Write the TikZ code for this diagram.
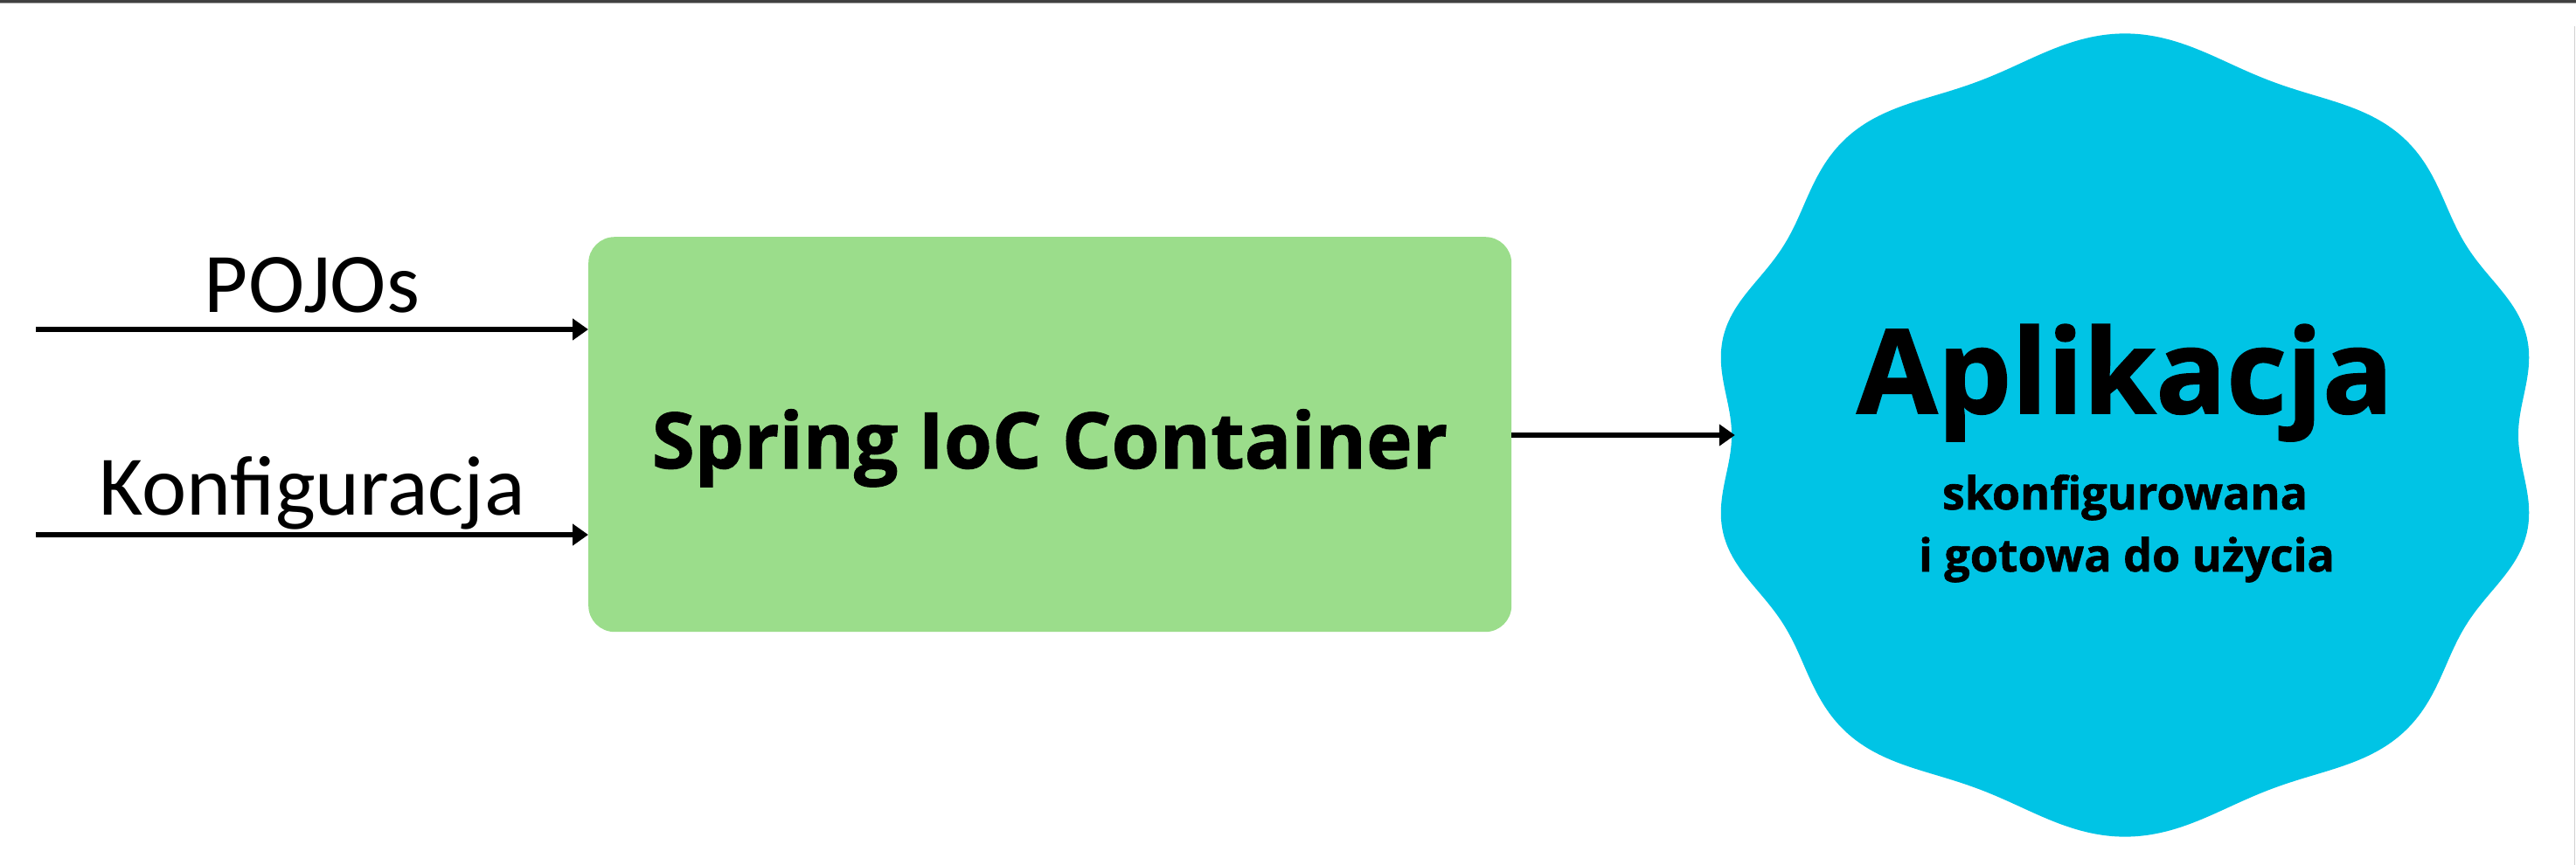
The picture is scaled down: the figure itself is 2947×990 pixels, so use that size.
\documentclass[tikz,border=0pt]{standalone}
\usepackage{fontspec}
\setmainfont{Carlito}
\newfontfamily\osans{Open Sans}[BoldFeatures={FakeBold=1.2}]
\usetikzlibrary{arrows.meta}
\definecolor{boxgreen}{HTML}{9BDD8B}
\definecolor{blobcyan}{HTML}{00C4E5}
\definecolor{topbar}{HTML}{404040}
\begin{document}
\begin{tikzpicture}[x=1pt,y=-1pt,
  arr/.style={line width=5.5pt,-{Triangle[length=18pt,width=24pt]}},
  inlabel/.style={anchor=base,inner sep=0pt,font=\fontsize{97}{110}\selectfont},
  boxtext/.style={anchor=base,inner sep=0pt,font=\osans\bfseries\fontsize{89}{100}\selectfont},
  apptitle/.style={anchor=base,inner sep=0pt,font=\osans\bfseries\fontsize{134}{150}\selectfont},
  appsub/.style={anchor=base,inner sep=0pt,font=\osans\bfseries\fontsize{52}{60}\selectfont}]
\useasboundingbox (0,0) rectangle (2947,990);
\fill[white] (0,0) rectangle (2947,990);
% frame remnants
\fill[topbar] (0,0) rectangle (2947,3);
\fill[black!35] (0,3) rectangle (2947,4.5);
\fill[black!18] (2944.5,30) rectangle (2946,990);
% container box
\node (box) [draw=none,fill=boxgreen,rounded corners=30pt,minimum width=1056pt,minimum height=452pt,inner sep=0pt,anchor=north west] at (673,271) {};
\node (boxlabel) [boxtext] at (1201,536) {Spring IoC Container};
% application blob
\fill[blobcyan] plot[domain=0:360,samples=721,variable=\t]
  ({2431+462*(1-0.026*cos(10*\t))*cos(\t-6*sin(2*\t))},
   {498-448*(1-0.026*cos(10*\t))*sin(\t-6*sin(2*\t))}) -- cycle;
\node (app) [circle,minimum size=892pt,inner sep=0pt,draw=none] at (2431,498) {};
\node (apptitle) [apptitle] at (2431,473) {Aplikacja};
\node (appsub1) [appsub] at (2431,583) {skonfigurowana};
\node (appsub2) [appsub] at (2433,654) {i gotowa do użycia};
% inputs
\coordinate (pojosstart) at (41,377);
\coordinate (konfstart) at (41,612);
\draw[arr] (pojosstart) -- (pojosstart -| box.west);
\draw[arr] (konfstart) -- (konfstart -| box.west);
\node (pojos) [inlabel] at (357,357) {POJOs};
\node (konf) [inlabel] at (357,589) {Konfiguracja};
% output
\draw[arr] (box.east |- app.west) -- (app.west);
\end{tikzpicture}
\end{document}
